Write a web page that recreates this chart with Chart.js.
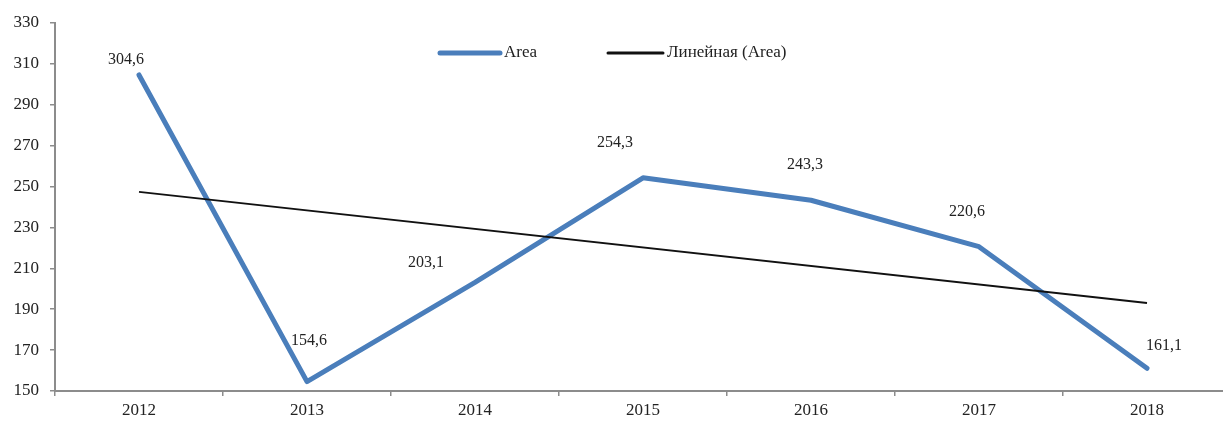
<!DOCTYPE html>
<html>
<head>
<meta charset="utf-8">
<script src="https://cdn.jsdelivr.net/npm/chart.js@4/dist/chart.umd.min.js"></script>
<style>
  html, body { margin: 0; padding: 0; background: #fff; overflow: hidden; }
  #wrap { width: 1231px; height: 421px; position: relative; }
</style>
</head>
<body>
<div id="wrap"><canvas id="graphCanvas"></canvas></div>
<script>
// data
const years = ['2012', '2013', '2014', '2015', '2016', '2017', '2018'];
const areaValues = [304.6, 154.6, 203.1, 254.3, 243.3, 220.6, 161.1];
// linear trend line: only its two ends, drawn straight across
const trendValues = [247.4, null, null, null, null, null, 193.0];
const seriesNames = ['Area', 'Линейная (Area)'];

const FONT = '"Liberation Serif", "Times New Roman", serif';
const BLUE = '#4a7ebb';

// where each value label sits relative to its point (hand placed like the original)
const labelShift = [[-13, -15], [2, -41], [-49, -20], [-28, -35], [-6, -35], [-12, -35], [17, -23]];

const valueLabels = {
    id: 'valueLabels',
    afterDatasetsDraw(chart) {
        const ctx = chart.ctx;
        const meta = chart.getDatasetMeta(0);
        ctx.save();
        ctx.font = '16px ' + FONT;
        ctx.fillStyle = '#222';
        ctx.textAlign = 'center';
        ctx.textBaseline = 'middle';
        meta.data.forEach(function (pt, i) {
            const txt = areaValues[i].toFixed(1).replace('.', ',');
            ctx.fillText(txt, pt.x + labelShift[i][0], pt.y + labelShift[i][1]);
        });
        ctx.restore();
    }
};

// legend sits inside the plot, like the Excel one
const innerLegend = {
    id: 'innerLegend',
    afterDraw(chart) {
        const ctx = chart.ctx;
        const items = [
            { x: 440, w: 60, lw: 5, color: BLUE },
            { x: 608, w: 55, lw: 3, color: '#111' }
        ];
        const y = 53;
        ctx.save();
        ctx.font = '17px ' + FONT;
        ctx.textBaseline = 'middle';
        ctx.lineCap = 'round';
        items.forEach(function (it, i) {
            ctx.strokeStyle = it.color;
            ctx.lineWidth = it.lw;
            ctx.beginPath();
            ctx.moveTo(it.x, y);
            ctx.lineTo(it.x + it.w, y);
            ctx.stroke();
            ctx.fillStyle = '#222';
            ctx.fillText(chart.data.datasets[i].label, it.x + it.w + 4, y);
        });
        ctx.restore();
    }
};

const ctx = document.getElementById('graphCanvas');
const myChart = new Chart(ctx, {
    type: 'line',
    data: {
        labels: years,
        datasets: [{
            label: seriesNames[0],
            data: areaValues,
            borderColor: BLUE,
            borderWidth: 5,
            pointRadius: 0,
            borderCapStyle: 'round',
            borderJoinStyle: 'round',
            tension: 0,
            order: 1
        }, {
            label: seriesNames[1],
            data: trendValues,
            borderColor: '#111',
            borderWidth: 2,
            pointRadius: 0,
            spanGaps: true,
            tension: 0,
            order: 0
        }]
    },
    options: {
        responsive: true,
        maintainAspectRatio: false,
        animation: false,
        layout: { padding: { top: 23, right: 0, bottom: 0, left: 0 } },
        plugins: {
            legend: { display: false },
            tooltip: { enabled: false }
        },
        scales: {
            x: {
                offset: true,
                afterFit: function (s) { s.height = 30; },
                grid: {
                    offset: true,
                    drawOnChartArea: false,
                    tickLength: 5,
                    color: '#8c8c8c',
                    lineWidth: 1.5
                },
                border: { color: '#8c8c8c', width: 2 },
                ticks: {
                    padding: 4,
                    color: '#222',
                    font: { family: FONT, size: 17 },
                    maxRotation: 0
                }
            },
            y: {
                min: 150,
                max: 330,
                afterFit: function (s) { s.width = 55; },
                grid: {
                    drawOnChartArea: false,
                    tickLength: 5,
                    color: '#8c8c8c',
                    lineWidth: 1.5
                },
                border: { color: '#8c8c8c', width: 2 },
                ticks: {
                    stepSize: 20,
                    padding: 11,
                    color: '#222',
                    font: { family: FONT, size: 17 }
                }
            }
        }
    },
    plugins: [valueLabels, innerLegend]
});
</script>
</body>
</html>
